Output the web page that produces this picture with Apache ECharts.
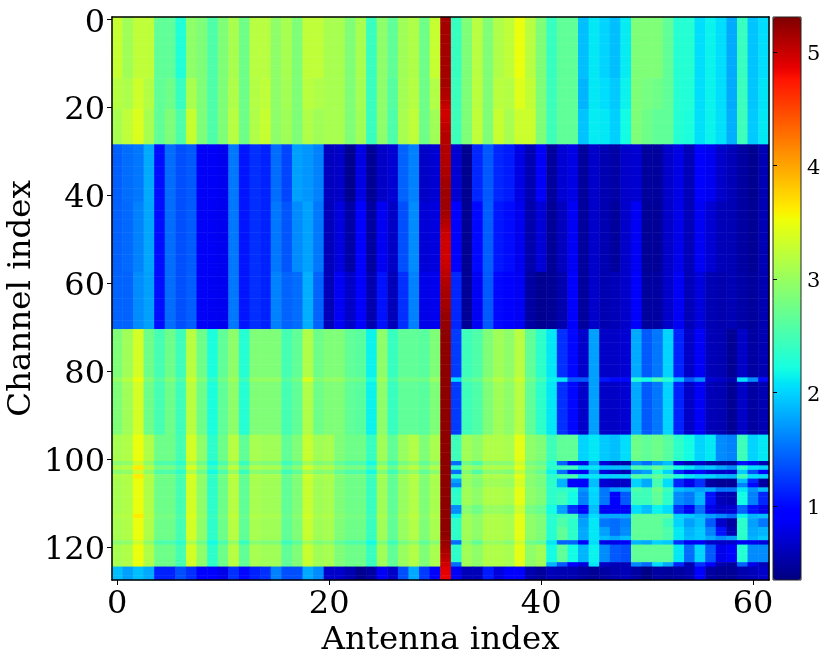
<!DOCTYPE html>
<html><head><meta charset="utf-8">
<style>html,body{margin:0;padding:0;background:#fff}#c{width:830px;height:663px}</style>
<script src="https://cdn.jsdelivr.net/npm/echarts@6/dist/echarts.min.js"></script>
</head><body><div id="c"></div>
<script>
// Value for each antenna (columns 0-30 "left", column 31 separately, 32-61 "right")
const leftA1=[3.28,3.05,3.23,3.23,2.66,2.66,2.27,2.94,2.85,2.56,2.85,3.1,2.75,3.19,3.19,2.94,3.09,2.85,3.23,3.23,3.09,3.09,2.85,3.09,2.42,2.94,2.66,3.05,3.14,2.75,3.28];
const rightA1=[2.42,2.85,3.19,2.85,3.14,3.23,3.5,3.19,2.85,2.42,2.66,2.66,1.9,2.1,2.0,1.9,2.12,2.85,2.85,2.85,2.66,2.3,2.3,2.05,2.15,2.05,1.8,2.42,1.92,2.05];
const leftAm=[3.18,3.12,3.32,3.16,2.66,2.75,2.42,3.1,2.85,2.56,2.85,3.14,2.75,3.16,3.23,2.94,3.07,2.85,3.2,3.14,3.09,3.09,2.85,3.07,2.42,2.94,2.6,3.07,3.18,2.75,3.15];
const rightAm=[2.44,2.85,3.2,2.85,3.2,3.16,3.42,3.25,2.85,2.44,2.66,2.66,1.85,2.1,2.05,1.95,2.15,2.85,2.8,2.75,2.66,2.3,2.28,2.05,2.15,2.05,1.8,2.44,1.93,2.08];
const leftA2=[3.09,3.23,3.4,3.09,2.66,2.85,2.56,3.28,2.85,2.56,2.85,3.19,2.75,3.14,3.28,2.94,3.05,2.85,3.14,3.05,3.09,3.09,2.85,3.05,2.42,2.94,2.56,3.09,3.23,2.75,3.05];
const rightA2=[2.46,2.85,3.23,2.85,3.28,3.09,3.3,3.3,2.85,2.46,2.66,2.66,1.92,2.12,2.1,1.98,2.2,2.85,2.75,2.66,2.66,2.3,2.25,2.06,2.15,2.06,1.82,2.46,1.95,2.1];
const leftB1=[1.43,1.5,1.55,1.8,1.03,1.5,1.35,1.4,.87,.87,.83,1.55,1.07,1.2,1.13,1.5,1.3,1.75,1.7,1.6,.62,.65,.42,.78,.45,.65,.7,1.45,1.6,.65,.7];
const rightB1=[.7,.42,1.15,1.4,1.15,1.1,.78,.57,.87,.48,.7,.78,.48,.67,.57,.52,.67,.7,.48,.48,.67,.78,.6,.92,.83,.67,.6,.5,.42,.57];
const leftBm=[1.44,1.48,1.6,1.78,1.03,1.5,1.35,1.41,.87,.86,.83,1.55,1.07,1.2,1.13,1.55,1.38,1.65,1.76,1.55,.6,.75,.52,.92,.5,.85,.65,1.35,1.65,.72,.76];
const rightBm=[.95,.43,1.0,1.42,1.08,1.02,.82,.54,.72,.46,.62,.85,.48,.67,.57,.48,.67,.85,.45,.46,.67,.8,.6,.85,.7,.6,.58,.5,.45,.57];
const leftB2=[1.45,1.45,1.65,1.75,1.03,1.5,1.35,1.42,.87,.85,.83,1.55,1.07,1.2,1.13,1.6,1.45,1.5,1.82,1.45,.6,.85,.65,.95,.55,1.05,.6,1.2,1.6,.8,.82];
const rightB2=[1.15,.45,.85,1.4,1.0,.95,.85,.5,.42,.45,.55,.95,.48,.67,.57,.6,.67,.95,.48,.5,.67,.85,.6,.75,.58,.55,.58,.52,.48,.57];
const leftC=[2.85,3.05,3.35,2.75,2.5,2.75,2.46,3.19,2.75,2.25,2.66,2.94,2.3,2.85,2.85,2.85,2.5,2.66,3.14,2.75,2.85,2.85,2.66,2.62,2.15,2.94,2.42,2.66,2.66,2.62,2.85];
const rightC=[1.25,2.46,2.56,2.85,3.05,2.94,3.19,2.66,2.36,2.1,1.2,1.0,.67,1.75,.65,.65,.7,1.8,1.4,1.55,2.0,1.13,.65,.87,.6,.57,.45,.65,.5,.57];
const leftCstreak=[2.98,3.18,3.5,2.88,2.62,2.88,2.58,3.3,2.88,2.4,2.78,3.05,2.45,2.98,2.98,2.98,2.62,2.78,3.4,2.88,2.98,2.98,2.78,2.75,2.25,3.05,2.55,2.78,2.78,2.75,3.0];
const rightCstreak=[2.05,2.6,2.7,2.98,3.18,3.05,3.3,2.78,2.5,2.15,2.1,1.4,1.4,1.75,1.07,1.0,1.0,2.3,2.2,2.5,2.3,1.9,1.4,1.65,.7,.65,.57,2.05,1.65,1.0];
const leftD=[3.09,3.14,3.5,3.14,2.75,2.75,2.5,3.35,2.94,2.36,2.75,3.19,2.66,3.09,3.05,3.05,2.66,2.85,3.28,3.05,3.09,2.85,2.75,2.75,2.42,3.05,2.66,3.0,3.15,2.85,3.1];
const leftDwarm=[3.14,3.18,3.62,3.18,2.8,2.8,2.56,3.4,2.98,2.42,2.8,3.24,2.72,3.14,3.1,3.1,2.72,2.9,3.33,3.1,3.14,2.9,2.8,2.8,2.48,3.1,2.72,3.05,3.2,2.9,3.15];
const leftDcool=[2.9,2.95,3.3,2.95,2.55,2.55,2.36,3.12,2.75,2.2,2.55,2.98,2.42,2.9,2.85,2.85,2.45,2.65,3.05,2.85,2.9,2.66,2.55,2.55,2.2,2.85,2.45,2.8,2.95,2.66,2.9];
const leftE=[1.9,1.75,1.9,1.8,1.13,1.13,1.35,1.2,.9,.9,.8,1.2,1.0,1.13,1.2,1.6,1.35,1.35,1.8,1.65,.67,.67,.57,.42,.5,.87,.65,1.35,1.8,1.25,.95];
const rightE=[.85,.6,.6,1.1,.75,.95,.95,.55,.48,.6,.57,.57,.5,.45,.5,.55,.6,.5,.38,.5,.48,.5,.55,.95,.5,.45,.45,.55,.6,.67];
const rightD95=[2.46,3.05,2.94,3.14,3.14,3.09,3.45,2.94,2.85,2.46,2.66,2.66,2.0,2.1,1.95,1.9,2.05,2.75,2.66,2.75,2.62,2.36,2.2,2.0,2.1,1.65,1.6,2.46,2.0,2.1];
const rightD101=[1.5,2.75,2.56,2.9,2.9,2.9,3.3,2.8,2.7,2.3,1.45,.95,.8,1.8,.75,.57,.52,1.65,1.5,1.75,1.9,.75,.57,.67,.52,.48,.48,1.05,.8,.57];
const rightD102=[2.36,3.05,2.94,3.14,3.14,3.09,3.45,2.94,2.85,2.36,2.46,2.46,2.05,2.1,1.9,1.9,1.9,2.56,2.46,2.7,2.46,2.2,2.1,1.9,1.95,1.8,1.65,2.35,2.05,2.0];
const rightD103=[1.5,2.85,2.56,2.9,2.9,2.85,3.22,2.85,2.66,2.15,1.5,.95,.85,1.8,.75,.65,.57,1.65,1.75,2.3,2.0,1.15,.8,1.0,.7,.65,.65,1.95,1.35,.9];
const rightD104=[2.36,3.05,2.94,3.14,3.14,3.09,3.45,2.94,2.85,2.36,2.5,2.5,2.05,2.1,2.0,2.0,2.0,2.6,2.5,2.7,2.5,2.25,2.1,2.0,2.0,1.9,1.85,2.46,2.05,2.0];
const rightD105=[1.75,3.0,2.85,3.05,3.05,3.0,3.35,2.9,2.8,2.36,1.85,.95,.95,1.9,.7,.65,.65,2.0,1.8,2.5,2.05,1.15,.8,1.2,.5,.45,.45,1.9,1.15,.5];
const rightD106=[1.6,3.0,2.85,3.05,3.05,3.0,3.35,2.9,2.8,2.36,1.85,.95,.95,1.9,.7,.65,.65,2.0,1.8,2.5,2.05,1.15,.8,1.2,.5,.45,.45,1.6,1.0,.5];
const rightD107=[2.3,3.05,2.94,3.14,3.14,3.09,3.45,2.94,2.85,2.36,2.36,2.3,1.7,2.05,1.55,1.75,1.8,2.56,2.46,2.75,2.46,1.9,1.82,1.75,1.8,1.55,1.55,2.1,1.7,1.9];
const rightD108=[2.36,3.05,2.94,3.14,3.14,3.09,3.45,2.94,2.85,2.36,2.46,2.2,1.6,2.0,1.55,.95,1.4,2.46,2.46,2.66,2.36,1.65,1.55,1.85,1.05,.6,.57,2.2,1.6,1.15];
const rightD111=[1.65,2.9,2.75,3.0,3.0,2.95,3.3,2.8,2.7,2.2,1.75,1.2,.95,1.9,.85,.87,.87,2.05,1.9,2.15,2.05,1.2,.85,1.5,.8,.67,.7,1.45,1.05,.8];
const rightD113=[2.15,3.05,2.94,3.14,3.14,3.09,3.45,2.94,2.85,2.36,2.46,2.46,1.65,2.05,1.8,1.8,1.8,2.66,2.66,2.66,2.66,2.0,1.95,1.85,1.75,1.65,1.5,2.15,1.85,1.9];
const rightD114=[2.36,3.05,2.94,3.14,3.14,3.09,3.45,2.94,2.85,2.3,2.56,2.36,1.75,2.1,1.55,1.5,1.6,2.66,2.66,2.66,2.46,2.0,1.75,1.9,1.4,.67,.5,2.36,1.75,1.55];
const rightD116=[2.36,3.05,2.94,3.14,3.14,3.09,3.45,2.94,2.85,2.3,2.66,2.36,1.8,2.1,1.75,1.5,1.65,2.66,2.66,2.66,2.55,2.1,1.85,1.95,1.6,1.05,.57,2.36,1.8,1.85];
const rightD118=[2.36,3.05,2.94,3.14,3.14,3.09,3.45,2.94,2.85,2.3,2.66,2.36,1.8,2.1,1.9,1.8,1.9,2.66,2.66,2.66,2.55,2.1,1.9,1.95,1.8,1.65,1.75,2.36,1.85,1.95];
const rightD119=[1.5,2.9,2.66,3.0,3.0,2.9,3.3,2.75,2.66,2.1,1.45,1.45,.95,2.05,.8,.8,.87,1.85,1.8,2.0,1.95,1.2,.85,.87,.67,.65,.67,.87,.83,.75];
const rightD120=[2.36,3.05,2.94,3.14,3.14,3.09,3.45,2.94,3.05,2.2,2.66,2.2,1.85,2.15,1.65,1.4,1.35,2.66,2.66,2.66,2.66,2.1,1.5,2.0,1.4,.8,.9,2.3,1.65,1.65];
const rightD124=[1.5,3.05,2.94,3.14,3.14,3.09,3.45,2.94,3.05,1.85,1.4,.95,.75,2.1,.65,.6,.6,1.65,1.5,2.05,1.8,1.15,.57,1.2,.9,.55,.48,1.45,.8,.6];
// Column 31 (the hot antenna) as [value, channels]
const hotColumnRuns=[[5.15,16],[5.12,1],[5.1,1],[5.08,1],[5.05,1],[5.0,1],[4.97,2],[5.0,1],[5.03,1],[5.05,1],[5.08,3],
[5.1,5],[5.12,2],[5.14,1],[5.16,1],[5.17,1],[5.18,5],[5.16,1],[5.14,1],[5.1,1],[5.06,1],[5.02,1],[5.0,1],[4.98,1],[4.97,4],[4.98,1],[5.0,1],[5.03,1],[5.05,1],[5.08,1],[5.1,1],[5.12,1],[5.14,1],[5.15,3],[5.18,1],[5.2,1],[5.22,3],
[5.25,47],[5.22,1],[5.2,1],[5.17,1],[5.12,1],[5.08,1],[5.03,1],[4.97,1],[4.9,1],[4.88,1],[4.85,1]];
const rowPlan=[[leftA1,rightA1,14],[leftAm,rightAm,7],[leftA2,rightA2,8],[leftB1,rightB1,13],[leftBm,rightBm,16],[leftB2,rightB2,13],[leftC,rightC,11],[leftCstreak,rightCstreak,1],[leftC,rightC,12],
[leftD,rightD95,6],[leftDcool,rightD101,1],[leftDwarm,rightD102,1],[leftDcool,rightD103,1],[leftDwarm,rightD104,1],[leftD,rightD105,1],[leftD,rightD106,1],[leftD,rightD107,1],[leftD,rightD108,3],[leftD,rightD111,2],[leftDwarm,rightD113,1],[leftD,rightD114,2],[leftD,rightD116,2],[leftD,rightD118,1],[leftDcool,rightD119,1],[leftD,rightD120,4],[leftD,rightD124,1],[leftE,rightE,3]];
const antennaLabels=Array.from({length:62},(_,i)=>String(i));
const channelLabels=Array.from({length:128},(_,i)=>String(i));
const colorbarTicks=[1,2,3,4,5];
const valueMin=0.35, valueMax=5.31;

const hotColumn=[];hotColumnRuns.forEach(([v,n])=>{for(let i=0;i<n;i++)hotColumn.push(v);});
const cells=[];let ch=0;
rowPlan.forEach(([l,r,n])=>{for(let k=0;k<n;k++,ch++){
  const row=l.concat([hotColumn[ch]],r);
  row.forEach((v,a)=>cells.push([a,ch,v]));
}});

// matplotlib jet colormap
function seg(s,t){for(let i=1;i<s.length;i++){if(t<=s[i][0]){const a=s[i-1],b=s[i];return a[1]+(b[1]-a[1])*(t-a[0])/(b[0]-a[0]);}}return s[s.length-1][1];}
const R=[[0,0],[.35,0],[.66,1],[.89,1],[1,.5]],G=[[0,0],[.125,0],[.375,1],[.64,1],[.91,0],[1,0]],B=[[0,.5],[.11,1],[.34,1],[.65,0],[1,0]];
const jet=[];for(let i=0;i<=200;i++){const t=i/200;jet.push('rgb('+[R,G,B].map(s=>Math.round(255*seg(s,t))).join(',')+')');}

const font='"DejaVu Serif"';
const chart=echarts.init(document.getElementById('c'),null,{renderer:'canvas'});
const frame={show:true,lineStyle:{color:'#000',width:1.5}};
chart.setOption({
  animation:false,backgroundColor:'#fff',
  grid:[{left:112,top:17,width:657,height:563,containLabel:false,outerBoundsMode:'none'},
        {left:773,top:17,width:28,height:563,show:true,borderColor:'#222',borderWidth:1,backgroundColor:'transparent',z:5,outerBoundsMode:'none'}],
  xAxis:[
    {type:'category',data:antennaLabels,gridIndex:0,position:'bottom',z:5,
     axisLine:frame,axisTick:{show:true,alignWithLabel:true,interval:19,length:5,lineStyle:{color:'#000',width:1}},
     axisLabel:{interval:19,fontFamily:font,fontSize:32,color:'#000',margin:9},splitLine:{show:false},splitArea:{show:false},
     name:'Antenna index',nameLocation:'middle',nameGap:44,nameMoveOverlap:false,nameTextStyle:{fontFamily:font,fontSize:32.5,color:'#000'}},
    {type:'value',gridIndex:0,position:'top',min:0,max:1,z:5,axisLine:frame,axisTick:{show:false},axisLabel:{show:false},splitLine:{show:false}},
    {type:'value',gridIndex:1,min:0,max:1,show:false}
  ],
  yAxis:[
    {type:'category',data:channelLabels,inverse:true,gridIndex:0,position:'left',z:5,
     axisLine:frame,axisTick:{show:true,alignWithLabel:true,interval:19,length:5,lineStyle:{color:'#000',width:1}},
     axisLabel:{interval:19,color:'#000',margin:7,formatter:v=>'{t|'+v+'}',rich:{t:{fontFamily:font,fontSize:32,color:'#000',padding:[8,0,0,0]}}},splitLine:{show:false},splitArea:{show:false},
     name:'Channel index',nameLocation:'middle',nameGap:74,nameMoveOverlap:false,nameRotate:90,nameTextStyle:{fontFamily:font,fontSize:32.5,color:'#000'}},
    {type:'value',gridIndex:0,position:'right',min:0,max:1,z:5,axisLine:frame,axisTick:{show:false},axisLabel:{show:false},splitLine:{show:false}},
    {type:'value',gridIndex:1,position:'right',min:valueMin,max:valueMax,z:6,
     axisLine:{show:false},splitLine:{show:false},
     axisTick:{show:true,length:4,lineStyle:{color:'#000',width:1},customValues:colorbarTicks},
     axisLabel:{color:'#000',margin:6,customValues:colorbarTicks,formatter:v=>'{t|'+v+'}',rich:{t:{fontFamily:font,fontSize:21,color:'#000',padding:[5,0,0,0]}}}}
  ],
  visualMap:{type:'continuous',seriesIndex:0,min:valueMin,max:valueMax,calculable:false,hoverLink:false,
    orient:'vertical',left:773,top:17,itemWidth:28,itemHeight:563,padding:0,z:1,text:null,showLabel:false,
    inRange:{color:jet}},
  series:[{type:'heatmap',xAxisIndex:0,yAxisIndex:0,data:cells,progressive:0,animation:false,
    itemStyle:{borderWidth:0},emphasis:{disabled:true}}]
});
</script></body></html>
